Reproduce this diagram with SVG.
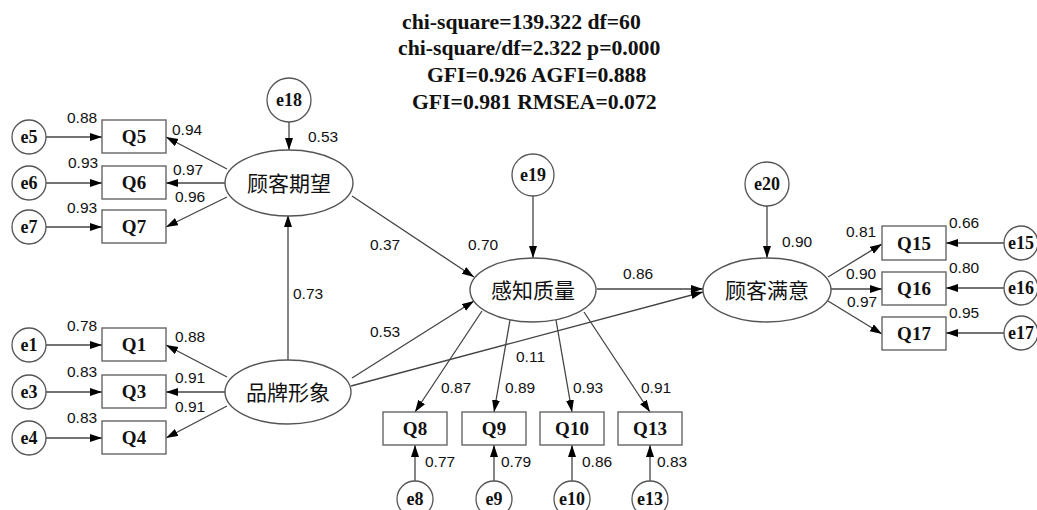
<svg xmlns="http://www.w3.org/2000/svg" width="1037" height="510" viewBox="0 0 1037 510">
<style>
.bg{fill:#fff}
.box{fill:#fff;stroke:#666;stroke-width:1.4}
.err{fill:#fff;stroke:#555;stroke-width:1.3}
.lat{fill:#fff;stroke:#555;stroke-width:1.4}
.ln{stroke:#444;stroke-width:1.3;fill:none;marker-end:url(#ah)}
.q{font-family:"Liberation Serif",serif;font-weight:bold;font-size:19px;text-anchor:middle;fill:#111}
.e{font-family:"Liberation Serif",serif;font-weight:bold;font-size:18px;text-anchor:middle;fill:#111}
.cn{font-family:"Noto Sans CJK SC",sans-serif;font-size:21px;text-anchor:middle;fill:#111}
.n{font-family:"Liberation Sans",Arial,sans-serif;font-size:15.5px;fill:#111}
.h{font-family:"Liberation Serif",serif;font-weight:bold;font-size:21.7px;fill:#111}
</style>
<defs>
<marker id="ah" markerUnits="userSpaceOnUse" markerWidth="13" markerHeight="9" refX="12" refY="4" orient="auto">
<path d="M0,0 L12,4 L0,8 z" fill="#000"/>
</marker>
</defs>
<rect class="bg" x="0" y="0" width="1037" height="510"/>
<g id="fit-stats">
<text class="h" x="402" y="29">chi-square=139.322 df=60</text>
<text class="h" x="398" y="55">chi-square/df=2.322 p=0.000</text>
<text class="h" x="427" y="82">GFI=0.926 AGFI=0.888</text>
<text class="h" x="412" y="109">GFI=0.981 RMSEA=0.072</text>
</g>
<g id="connectors">
<line class="ln" x1="46" y1="137" x2="102" y2="137"/>
<line class="ln" x1="46" y1="183" x2="102" y2="183"/>
<line class="ln" x1="46" y1="227" x2="102" y2="227"/>
<line class="ln" x1="46" y1="345" x2="102" y2="345"/>
<line class="ln" x1="46" y1="392" x2="102" y2="392"/>
<line class="ln" x1="46" y1="438" x2="102" y2="438"/>
<line class="ln" x1="227" y1="169" x2="166" y2="137"/>
<line class="ln" x1="225" y1="183" x2="166" y2="183"/>
<line class="ln" x1="227" y1="197" x2="166" y2="227"/>
<line class="ln" x1="227" y1="377" x2="166" y2="345"/>
<line class="ln" x1="225" y1="392" x2="166" y2="392"/>
<line class="ln" x1="227" y1="406" x2="166" y2="438"/>
<line class="ln" x1="289" y1="122" x2="289" y2="150"/>
<line class="ln" x1="288" y1="360" x2="288" y2="215"/>
<line class="ln" x1="352" y1="196" x2="474" y2="277"/>
<line class="ln" x1="352" y1="378" x2="474" y2="301"/>
<line class="ln" x1="351" y1="386" x2="703" y2="292"/>
<line class="ln" x1="533" y1="196" x2="533" y2="258"/>
<line class="ln" x1="597" y1="289" x2="703" y2="289"/>
<line class="ln" x1="767" y1="206" x2="767" y2="258"/>
<line class="ln" x1="482" y1="311" x2="415" y2="412"/>
<line class="ln" x1="510" y1="320" x2="494" y2="412"/>
<line class="ln" x1="556" y1="320" x2="572" y2="412"/>
<line class="ln" x1="584" y1="312" x2="650" y2="412"/>
<line class="ln" x1="415" y1="481" x2="415" y2="445"/>
<line class="ln" x1="494" y1="481" x2="494" y2="445"/>
<line class="ln" x1="572" y1="481" x2="572" y2="445"/>
<line class="ln" x1="650" y1="481" x2="650" y2="445"/>
<line class="ln" x1="828" y1="277" x2="882" y2="244"/>
<line class="ln" x1="831" y1="289" x2="882" y2="289"/>
<line class="ln" x1="828" y1="301" x2="882" y2="334"/>
<line class="ln" x1="1005" y1="243" x2="946" y2="243"/>
<line class="ln" x1="1005" y1="288" x2="946" y2="288"/>
<line class="ln" x1="1005" y1="333" x2="946" y2="333"/>
</g>
<g id="e5"><circle class="err" cx="29" cy="137" r="17"/><text class="e" x="29" y="143">e5</text></g>
<g id="e6"><circle class="err" cx="29" cy="183" r="17"/><text class="e" x="29" y="189">e6</text></g>
<g id="e7"><circle class="err" cx="29" cy="227" r="17"/><text class="e" x="29" y="233">e7</text></g>
<g id="e1"><circle class="err" cx="29" cy="345" r="17"/><text class="e" x="29" y="351">e1</text></g>
<g id="e3"><circle class="err" cx="29" cy="392" r="17"/><text class="e" x="29" y="398">e3</text></g>
<g id="e4"><circle class="err" cx="29" cy="438" r="17"/><text class="e" x="29" y="444">e4</text></g>
<g id="Q5"><rect class="box" x="102" y="120" width="64" height="33"/><text class="q" x="134" y="143">Q5</text></g>
<g id="Q6"><rect class="box" x="102" y="166" width="64" height="33"/><text class="q" x="134" y="189">Q6</text></g>
<g id="Q7"><rect class="box" x="102" y="210" width="64" height="33"/><text class="q" x="134" y="233">Q7</text></g>
<g id="Q1"><rect class="box" x="102" y="328" width="64" height="33"/><text class="q" x="134" y="351">Q1</text></g>
<g id="Q3"><rect class="box" x="102" y="375" width="64" height="33"/><text class="q" x="134" y="398">Q3</text></g>
<g id="Q4"><rect class="box" x="102" y="421" width="64" height="33"/><text class="q" x="134" y="444">Q4</text></g>
<g id="e18"><circle class="err" cx="289" cy="100" r="22"/><text class="e" x="289" y="106">e18</text></g>
<g id="guke-qiwang"><ellipse class="lat" cx="289" cy="183" rx="64" ry="33"/><text class="cn" x="289" y="191">顾客期望</text></g>
<g id="pinpai-xingxiang"><ellipse class="lat" cx="288" cy="392" rx="63" ry="32"/><text class="cn" x="288" y="400">品牌形象</text></g>
<g id="e19"><circle class="err" cx="533" cy="175" r="21"/><text class="e" x="533" y="181">e19</text></g>
<g id="ganzhi-zhiliang"><ellipse class="lat" cx="533" cy="290" rx="63" ry="32"/><text class="cn" x="533" y="298">感知质量</text></g>
<g id="e20"><circle class="err" cx="767" cy="184" r="22"/><text class="e" x="767" y="190">e20</text></g>
<g id="guke-manyi"><ellipse class="lat" cx="767" cy="290" rx="64" ry="32"/><text class="cn" x="767" y="298">顾客满意</text></g>
<g id="Q8"><rect class="box" x="383" y="412" width="64" height="33"/><text class="q" x="415" y="435">Q8</text></g>
<g id="Q9"><rect class="box" x="462" y="412" width="64" height="33"/><text class="q" x="494" y="435">Q9</text></g>
<g id="Q10"><rect class="box" x="540" y="412" width="64" height="33"/><text class="q" x="572" y="435">Q10</text></g>
<g id="Q13"><rect class="box" x="618" y="412" width="64" height="33"/><text class="q" x="650" y="435">Q13</text></g>
<g id="e8"><circle class="err" cx="415" cy="499" r="18"/><text class="e" x="415" y="505">e8</text></g>
<g id="e9"><circle class="err" cx="494" cy="499" r="18"/><text class="e" x="494" y="505">e9</text></g>
<g id="e10"><circle class="err" cx="572" cy="499" r="18"/><text class="e" x="572" y="505">e10</text></g>
<g id="e13"><circle class="err" cx="650" cy="499" r="18"/><text class="e" x="650" y="505">e13</text></g>
<g id="Q15"><rect class="box" x="882" y="226" width="64" height="34"/><text class="q" x="914" y="250">Q15</text></g>
<g id="Q16"><rect class="box" x="882" y="272" width="64" height="33"/><text class="q" x="914" y="295">Q16</text></g>
<g id="Q17"><rect class="box" x="882" y="317" width="64" height="33"/><text class="q" x="914" y="340">Q17</text></g>
<g id="e15"><circle class="err" cx="1021" cy="243" r="17"/><text class="e" x="1021" y="249">e15</text></g>
<g id="e16"><circle class="err" cx="1021" cy="288" r="17"/><text class="e" x="1021" y="294">e16</text></g>
<g id="e17"><circle class="err" cx="1021" cy="333" r="17"/><text class="e" x="1021" y="339">e17</text></g>
<g id="labels">
<text class="n" x="67" y="123">0.88</text>
<text class="n" x="172" y="135">0.94</text>
<text class="n" x="308" y="142">0.53</text>
<text class="n" x="68" y="168">0.93</text>
<text class="n" x="173" y="175">0.97</text>
<text class="n" x="175" y="202">0.96</text>
<text class="n" x="67" y="213">0.93</text>
<text class="n" x="293" y="299">0.73</text>
<text class="n" x="67" y="331">0.78</text>
<text class="n" x="175" y="342">0.88</text>
<text class="n" x="67" y="377">0.83</text>
<text class="n" x="175" y="383">0.91</text>
<text class="n" x="175" y="412">0.91</text>
<text class="n" x="67" y="423">0.83</text>
<text class="n" x="370" y="250">0.37</text>
<text class="n" x="468" y="250">0.70</text>
<text class="n" x="370" y="337">0.53</text>
<text class="n" x="623" y="279">0.86</text>
<text class="n" x="516" y="362">0.11</text>
<text class="n" x="441" y="393">0.87</text>
<text class="n" x="505" y="393">0.89</text>
<text class="n" x="573" y="393">0.93</text>
<text class="n" x="641" y="393">0.91</text>
<text class="n" x="425" y="467">0.77</text>
<text class="n" x="501" y="467">0.79</text>
<text class="n" x="582" y="467">0.86</text>
<text class="n" x="657" y="467">0.83</text>
<text class="n" x="782" y="247">0.90</text>
<text class="n" x="846" y="237">0.81</text>
<text class="n" x="846" y="279">0.90</text>
<text class="n" x="847" y="307">0.97</text>
<text class="n" x="949" y="228">0.66</text>
<text class="n" x="949" y="273">0.80</text>
<text class="n" x="949" y="318">0.95</text>
</g>
</svg>
